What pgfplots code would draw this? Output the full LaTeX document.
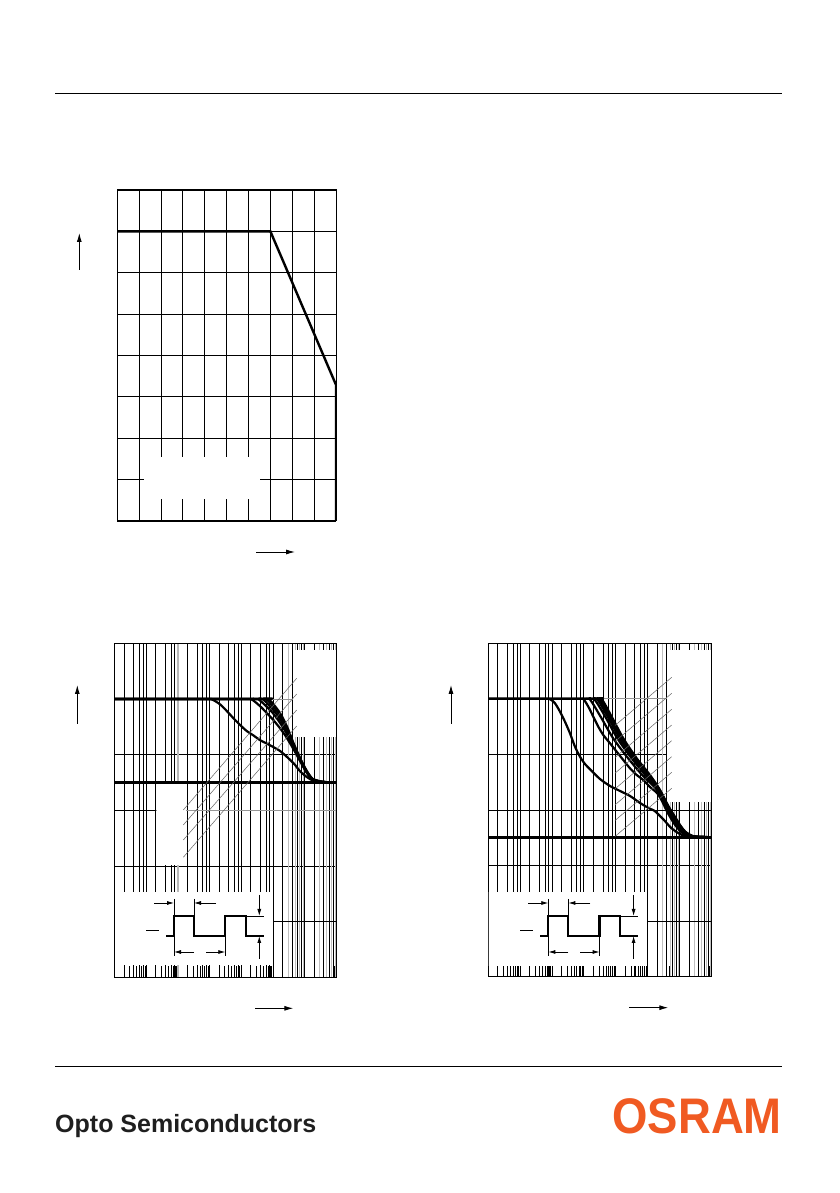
\documentclass[border=0pt]{standalone}
\usepackage{pgfplots}
\pgfplotsset{compat=1.18}
\usepackage{fontspec}
\usetikzlibrary{arrows.meta}
\newfontfamily\libsans{Liberation Sans}
\definecolor{osram}{RGB}{240,90,34}
\definecolor{gridgray}{RGB}{150,150,150}
\definecolor{leadgray}{RGB}{100,100,100}

\tikzset{curvestyle/.style={black, line width=2.2pt, smooth, tension=0.45, line join=round},
         oddline/.style={gray!50, line width=0.7pt}}

\newcommand{\pulsefig}{%
  \draw[line width=2.3pt] (166,936) -- (174,936) -- (174,916) -- (194,916) -- (194,936) -- (225.3,936) -- (225.3,916) -- (246,916) -- (246,936) -- (264,936);
  \draw[line width=0.7pt] (174,899)--(174,916) (194,899)--(194,916) (174,936)--(174,956) (225.3,936)--(225.3,956) (246,916)--(264,916) (146,930.5)--(159,930.5);
  \draw[line width=0.8pt, -{Latex[length=7pt,width=4pt]}] (154,903)--(174,903);
  \draw[line width=0.8pt, -{Latex[length=7pt,width=4pt]}] (216,903)--(194,903);
  \draw[line width=0.8pt, -{Latex[length=7pt,width=4pt]}] (194,952)--(174,952);
  \draw[line width=0.8pt, -{Latex[length=7pt,width=4pt]}] (206,952)--(225.3,952);
  \draw[line width=0.8pt, -{Latex[length=7pt,width=4pt]}] (259.3,895)--(259.3,916);
  \draw[line width=0.8pt, -{Latex[length=7pt,width=4pt]}] (259.3,959)--(259.3,936);
}

\newcommand{\oddgrey}{%
  \draw[oddline] (axis cs:3,1) -- (axis cs:3,1000);
  \draw[oddline] (axis cs:5,1) -- (axis cs:5,1000);
  \draw[oddline] (axis cs:7,1) -- (axis cs:7,1000);
  \draw[oddline] (axis cs:9,1) -- (axis cs:9,1000);
  \draw[oddline] (axis cs:30,1) -- (axis cs:30,1000);
  \draw[oddline] (axis cs:50,1) -- (axis cs:50,1000);
  \draw[oddline] (axis cs:70,1) -- (axis cs:70,1000);
  \draw[oddline] (axis cs:90,1) -- (axis cs:90,1000);
}

\begin{document}
\begin{tikzpicture}
\fill[white] (0pt,0pt) rectangle (839pt,1193pt);
\useasboundingbox (0pt,0pt) rectangle (839pt,1193pt);

% ---------------- Plot 1 ----------------
\begin{axis}[at={(117.3pt,672pt)}, anchor=south west, scale only axis,
  width=218.7pt, height=331pt,
  xmin=0, xmax=100, ymin=0, ymax=80,
  xtick={0,10,...,100}, ytick={0,10,...,80},
  xticklabels={}, yticklabels={}, major tick length=0pt,
  grid=major, major grid style={black, line width=0.9pt},
  axis line style={line width=1pt}]
\fill[white] (axis cs:12.3,5.3) rectangle (axis cs:65.3,15.5);
\addplot[black, line width=2.4pt, line join=miter] coordinates {(0,70) (70,70) (100,32.9) (100,0)};
\draw[line width=1pt] (rel axis cs:0,0) rectangle (rel axis cs:1,1);
\end{axis}

% ---------------- Plot 2 ----------------
\begin{axis}[at={(114.7pt,215.7pt)}, anchor=south west, scale only axis,
    width=221.6pt, height=334pt,
    xmode=log, ymode=log, xmin=1e-5, xmax=100, ymin=1, ymax=1000,
    xtick={1e-5,1e-4,1e-3,1e-2,1e-1,1,10,100}, ytick={1,10,100,1000},
    minor xtick={2e-5,3e-5,4e-5,5e-5,6e-5,7e-5,8e-5,9e-5,
                 2e-4,3e-4,4e-4,5e-4,6e-4,7e-4,8e-4,9e-4,
                 2e-3,3e-3,4e-3,5e-3,6e-3,7e-3,8e-3,9e-3,
                 2e-2,3e-2,4e-2,5e-2,6e-2,7e-2,8e-2,9e-2,
                 0.2,0.3,0.4,0.5,0.6,0.7,0.8,0.9,
                 2,3,4,5,6,7,8,9,20,30,40,50,60,70,80,90},
    minor ytick={1},
    extra x ticks={2e-5,4e-5,6e-5,8e-5,2e-4,4e-4,6e-4,8e-4,2e-3,4e-3,6e-3,8e-3,
                   2e-2,4e-2,6e-2,8e-2,0.2,0.4,0.6,0.8,2,4,6,8,20,40,60,80},
    extra x tick labels={}, extra x tick style={grid=major},
    xticklabels={}, yticklabels={},
    xtick pos=left, ytick pos=left,
    tick align=inside, major tick length=11pt, minor tick length=11pt,
    tick style={black, line width=0.8pt},
    xmajorgrids=true, xminorgrids=false, ymajorgrids=true, yminorgrids=false,
    major grid style={black, line width=0.9pt},
    axis line style={line width=1pt}]
\oddgrey
\draw[black, line width=0.9pt] (axis cs:1e-5,3.162) -- (axis cs:100,3.162);
\draw[gridgray, line width=0.8pt] (axis cs:1e-5,316.2) -- (axis cs:100,316.2);
\draw[gridgray, line width=0.8pt] (axis cs:1e-5,31.62) -- (axis cs:100,31.62);
\draw[black, line width=0.9pt] (axis cs:1e-5,31.62) -- (axis cs:2.02e-4,31.62);
\draw[gray!55, line width=1.6pt] (axis cs:1e-3,1) -- (axis cs:1e-3,1000);
\fill[white] (axis cs:2.12e-4,10.3) rectangle (axis cs:1.79e-3,55);
\fill[white] (axis cs:4.3,144) rectangle (axis cs:100,870);
\fill[white] (axis cs:1e-5,1.28) rectangle (axis cs:1.02,5.87);
\addplot[black, line width=3pt] coordinates {(1e-5,56) (100,56)};
\addplot[curvestyle] coordinates {(1e-5,316)(0.007,316)(0.0116,314)(0.0212,283)(0.0345,247)(0.0557,213)(0.0908,185)(0.148,163)(0.239,149)(0.388,135)(0.632,126)(1.02,117)(1.66,108)(2.39,99)(3.44,90)(4.95,81)(7.13,71)(11.6,63)(18.7,58.3)(30.5,57)(100,56)};
\addplot[curvestyle] coordinates {(1e-5,316)(0.13,316)(0.209,314)(0.388,273)(0.632,237)(1.02,205)(1.66,173)(2.39,150)(3.44,127)(4.95,106)(7.13,87.7)(10.3,72.8)(14.8,63)(21.2,58.3)(30.5,57)(100,56)};
\addplot[curvestyle] coordinates {(1e-5,316)(0.22,316)(0.348,314)(0.98,237)(2.15,173)(3.9,127)(7.5,87.7)(11.4,69.8)(16.9,60.4)(33.2,57)(100,56)};
\addplot[curvestyle] coordinates {(1e-5,316)(0.3,316)(0.48,314)(1.22,237)(2.45,173)(4.1,127)(7.7,87.7)(11.8,69.8)(17.5,60.4)(35.3,57)(100,56)};
\addplot[curvestyle] coordinates {(1e-5,316)(0.39,316)(0.619,314)(1.45,237)(2.7,173)(4.3,127)(7.83,87.7)(12.0,69.8)(17.9,60.4)(36.6,57)(100,56)};
\addplot[curvestyle] coordinates {(1e-5,316)(0.47,316)(0.748,314)(1.66,237)(2.91,173)(4.44,127)(7.94,87.7)(12.3,69.8)(18.3,60.4)(37.9,57)(100,56)};
\draw[line width=1pt] (rel axis cs:0,0) rectangle (rel axis cs:1,1);
\end{axis}

% ---------------- Plot 3 ----------------
\begin{axis}[at={(488.3pt,216.3pt)}, anchor=south west, scale only axis,
    width=223pt, height=333.4pt,
    xmode=log, ymode=log, xmin=1e-5, xmax=100, ymin=1, ymax=1000,
    xtick={1e-5,1e-4,1e-3,1e-2,1e-1,1,10,100}, ytick={1,10,100,1000},
    minor xtick={2e-5,3e-5,4e-5,5e-5,6e-5,7e-5,8e-5,9e-5,
                 2e-4,3e-4,4e-4,5e-4,6e-4,7e-4,8e-4,9e-4,
                 2e-3,3e-3,4e-3,5e-3,6e-3,7e-3,8e-3,9e-3,
                 2e-2,3e-2,4e-2,5e-2,6e-2,7e-2,8e-2,9e-2,
                 0.2,0.3,0.4,0.5,0.6,0.7,0.8,0.9,
                 2,3,4,5,6,7,8,9,20,30,40,50,60,70,80,90},
    minor ytick={1},
    extra x ticks={2e-5,4e-5,6e-5,8e-5,2e-4,4e-4,6e-4,8e-4,2e-3,4e-3,6e-3,8e-3,
                   2e-2,4e-2,6e-2,8e-2,0.2,0.4,0.6,0.8,2,4,6,8,20,40,60,80},
    extra x tick labels={}, extra x tick style={grid=major},
    xticklabels={}, yticklabels={},
    xtick pos=left, ytick pos=left,
    tick align=inside, major tick length=11pt, minor tick length=11pt,
    tick style={black, line width=0.8pt},
    xmajorgrids=true, xminorgrids=false, ymajorgrids=true, yminorgrids=false,
    major grid style={black, line width=0.9pt},
    axis line style={line width=1pt}]
\oddgrey
\draw[black, line width=0.9pt] (axis cs:1e-5,3.162) -- (axis cs:100,3.162);
\draw[black, line width=0.9pt] (axis cs:1e-5,31.62) -- (axis cs:100,31.62);
\draw[gridgray, line width=0.8pt] (axis cs:1e-5,316.2) -- (axis cs:100,316.2);
\fill[white] (axis cs:3.98,37.6) rectangle (axis cs:100,870);
\fill[white] (axis cs:1e-5,1.26) rectangle (axis cs:0.98,5.82);
\addplot[black, line width=3pt] coordinates {(1e-5,18) (100,18)};
\addplot[curvestyle] coordinates {(1e-5,316)(5e-4,316)(8.63e-4,314)(1.24e-3,288.5)(1.78e-3,242.5)(2.55e-3,197)(3.66e-3,155)(5.26e-3,117.4)(7.55e-3,95.4)(0.01084,82)(0.01759,71)(0.03206,60.1)(0.0661,52.0)(0.136,46.9)(0.280,42.3)(0.577,36.6)(1.107,32.8)(1.588,31.3)(2.016,29.5)(3.27,25.7)(5.31,22.0)(8.56,19.85)(13.9,18.5)(22.5,18.2)(100,18)};
\addplot[curvestyle] coordinates {(1e-5,316)(6e-3,316)(9.59e-3,314)(0.01377,269)(0.01975,218.6)(0.02834,177.7)(0.04069,149.6)(0.0661,126)(0.1072,105.8)(0.1727,89.1)(0.280,75.1)(0.4548,65.3)(0.733,58.9)(1.19,50.9)(1.972,45.0)(2.83,38.1)(4.15,30.3)(6.74,24.0)(10.9,20.2)(17.6,18.5)(28.6,18.2)(100,18)};
\addplot[curvestyle] coordinates {(1e-5,316)(0.0095,316)(0.01522,314)(0.0335,218.6)(0.083,139.7)(0.245,92.3)(0.68,65.3)(1.98,47.9)(3.65,34.4)(6.0,26.8)(8.9,22.7)(12.8,20.0)(20.5,18.5)(33.5,18.1)(100,18)};
\addplot[curvestyle] coordinates {(1e-5,316)(0.0133,316)(0.02123,314)(0.0470,218.6)(0.112,139.7)(0.315,92.3)(0.85,65.3)(2.15,47.9)(3.95,34.4)(6.55,26.8)(9.7,22.7)(13.9,20.0)(22.2,18.5)(36.0,18.1)(100,18)};
\addplot[curvestyle] coordinates {(1e-5,316)(0.0163,316)(0.02599,314)(0.0560,218.6)(0.132,139.7)(0.360,92.3)(0.96,65.3)(2.25,47.9)(4.12,34.4)(6.95,26.8)(10.1,22.7)(14.5,20.0)(23.3,18.5)(37.8,18.1)(100,18)};
\addplot[curvestyle] coordinates {(1e-5,316)(0.0185,316)(0.02960,314)(0.0625,218.6)(0.147,139.7)(0.395,92.3)(1.04,65.3)(2.33,47.9)(4.26,34.4)(7.18,26.8)(10.45,22.7)(15.0,20.0)(24.1,18.5)(39.0,18.1)(100,18)};
\addplot[curvestyle] coordinates {(1e-5,316)(0.0206,316)(0.0330,314)(0.0685,218.6)(0.160,139.7)(0.425,92.3)(1.12,65.3)(2.39,47.9)(4.37,34.4)(7.41,26.8)(10.71,22.7)(15.37,20.0)(24.67,18.5)(40.05,18.1)(100,18)};
\addplot[curvestyle] coordinates {(1e-5,316)(0.0226,316)(0.03623,314)(0.0746,218.6)(0.1727,139.7)(0.4548,92.3)(1.19,65.3)(2.450,47.9)(4.465,34.4)(7.622,26.8)(10.94,22.7)(15.70,20.0)(25.3,18.5)(41.1,18.1)(100,18)};
\draw[line width=1pt] (rel axis cs:0,0) rectangle (rel axis cs:1,1);
\end{axis}

% ---------------- annotations in page coordinates ----------------
\begin{scope}[shift={(0pt,1193pt)}, x=1pt, y=-1pt]
  \draw[line width=1pt] (55,94) -- (782,94);
  \draw[line width=1pt] (55,1067) -- (782,1067);
  \draw[line width=0.9pt, -{Latex[length=9pt,width=5pt]}] (79.3,270) -- (79.3,233);
  \draw[line width=0.9pt, -{Latex[length=9pt,width=5pt]}] (256,552) -- (295,552);
  \draw[line width=0.9pt, -{Latex[length=9pt,width=5pt]}] (77.3,724) -- (77.3,685);
  \draw[line width=0.9pt, -{Latex[length=9pt,width=5pt]}] (255,1008.3) -- (293.3,1008.3);
  \draw[line width=0.9pt, -{Latex[length=9pt,width=5pt]}] (451,724) -- (451,685);
  \draw[line width=0.9pt, -{Latex[length=9pt,width=5pt]}] (629.3,1007.7) -- (668.3,1007.7);
  \draw[leadgray, line width=0.5pt] (183.3,810) -- (296.7,678.3);
  \draw[leadgray, line width=0.5pt] (183.3,825) -- (296.7,694);
  \draw[leadgray, line width=0.5pt] (183.3,840) -- (296.7,710);
  \draw[leadgray, line width=0.5pt] (183.3,857.3) -- (296.7,726);
  \foreach \ye in {677.3,693.3,709.3,725,740.7,756.7,772.3,788.3}{
    \draw[leadgray, line width=0.5pt] (615,{\ye+48.2}) -- (671.7,\ye);
  }
  \pulsefig
  \begin{scope}[xshift=374.3pt]
    \pulsefig
  \end{scope}
\end{scope}

\node[anchor=base west, inner sep=0pt, text=black!88] at (55pt,60pt)
  {\libsans\bfseries\fontsize{25}{25}\selectfont Opto Semiconductors};
\node[anchor=base east, inner sep=0pt, text=osram, xscale=0.91] at (782pt,59pt)
  {\libsans\bfseries\fontsize{50}{50}\selectfont OSRAM};
\end{tikzpicture}
\end{document}
